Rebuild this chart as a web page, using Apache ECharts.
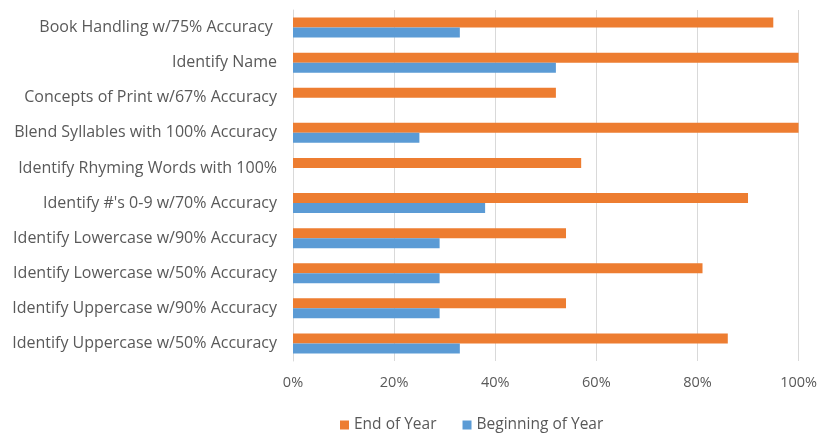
<!DOCTYPE html>
<html>
<head>
<meta charset="utf-8">
<script src="https://cdn.jsdelivr.net/npm/echarts@6/dist/echarts.min.js"></script>
<style>
  html, body { margin: 0; padding: 0; background: #fff; }
  #chart { width: 820px; height: 436px; }
</style>
</head>
<body>
<div id="chart"></div>
<script>
// Skills listed top to bottom
const categories = [
  'Book Handling w/75% Accuracy ',
  'Identify Name',
  'Concepts of Print w/67% Accuracy',
  'Blend Syllables with 100% Accuracy',
  'Identify Rhyming Words with 100%',
  "Identify #'s 0-9 w/70% Accuracy",
  'Identify Lowercase w/90% Accuracy',
  'Identify Lowercase w/50% Accuracy',
  'Identify Uppercase w/90% Accuracy',
  'Identify Uppercase w/50% Accuracy'
];
// Share of students meeting each skill (%)
const endOfYear = [95, 100, 52, 100, 57, 90, 54, 81, 54, 86];
const beginningOfYear = [33, 52, 0, 25, 0, 38, 29, 29, 29, 33];
const xTicks = [0, 20, 40, 60, 80, 100];

const FONT = 'Open Sans';
const TEXT = '#595959';

const chart = echarts.init(document.getElementById('chart'), null, { renderer: 'canvas' });
chart.setOption({
  animation: false,
  backgroundColor: '#ffffff',
  textStyle: { fontFamily: FONT },
  legend: {
    data: ['End of Year', 'Beginning of Year'],
    bottom: -2,
    left: 335,
    itemWidth: 9,
    itemHeight: 9,
    itemGap: 26,
    icon: 'rect',
    textStyle: { color: TEXT, fontSize: 15.5, fontFamily: FONT }
  },
  grid: { left: 293, right: 21, top: 10, bottom: 75, containLabel: false },
  xAxis: {
    type: 'value',
    min: xTicks[0],
    max: xTicks[xTicks.length - 1],
    interval: 20,
    axisLine: { show: false },
    axisTick: { show: false },
    axisLabel: { color: TEXT, fontSize: 14.5, margin: 14, formatter: v => v + '%' },
    splitLine: { lineStyle: { color: '#d9d9d9', width: 1 } }
  },
  yAxis: {
    type: 'category',
    data: categories,
    inverse: true,
    axisLine: { show: true, lineStyle: { color: '#d9d9d9' } },
    axisTick: { show: false },
    axisLabel: { color: TEXT, fontSize: 16, margin: 16 }
  },
  series: [
    {
      name: 'End of Year',
      type: 'bar',
      data: endOfYear,
      barWidth: 10,
      barGap: '0%',
      itemStyle: { color: '#ED7D31' }
    },
    {
      name: 'Beginning of Year',
      type: 'bar',
      data: beginningOfYear,
      barWidth: 10,
      barGap: '0%',
      itemStyle: { color: '#5B9BD5' }
    }
  ]
});
</script>
</body>
</html>
